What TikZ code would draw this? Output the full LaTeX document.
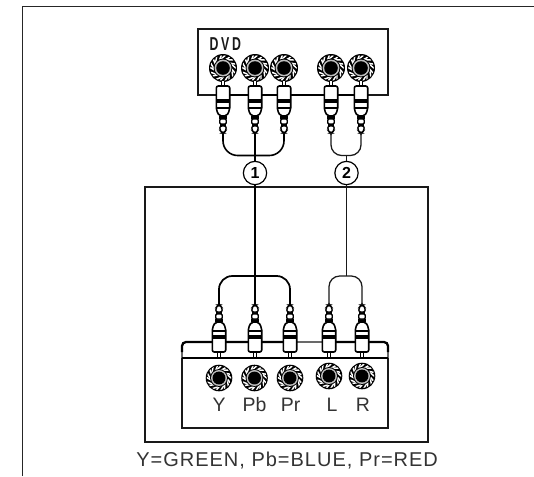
\documentclass[tikz,border=0pt]{standalone}
\usepackage{fontspec}
\setmainfont{Liberation Sans}
\begin{document}
\begin{tikzpicture}[x=0.75pt,y=-0.75pt,
  thinl/.style={line width=0.95pt,black!90},
  medl/.style={line width=1.2pt,black},
  thickl/.style={line width=1.7pt,black},
  lab/.style={inner sep=0pt,font=\fontsize{14.6pt}{17pt}\selectfont,text=black!80},
  num/.style={circle,draw=black,line width=0.9pt,fill=white,minimum size=17.5pt,inner sep=0pt,font=\bfseries\fontsize{12pt}{14pt}\selectfont},
  jack/.pic={
    \fill[black] (0,0) circle (14);
    \begin{scope}
      \clip (0,0) circle (12.8);
      \foreach \a in {0,40,...,320}{
        \begin{scope}[rotate=\a]
          \draw[white,line width=1.1pt] (8,-4) -- (14,1);
          \draw[white,line width=1.1pt] (7,-1) -- (12,5);
        \end{scope}}
    \end{scope}
    \fill[black] (0,0) circle (9.4);
    \fill[white!75!black] (0,0) circle (8.4);
    \fill[black] (0,0) circle (6.8);
  },
  plugshape/.pic={
    \fill[black] (-2.2,-5) rectangle (2.2,1);
    \fill[white] (-1,-5) rectangle (1,0);
    \draw[line width=1.2pt,fill=white,rounded corners=1.5pt] (-6.7,0) -- (6.7,0) -- (6.7,24) -- (3.6,30) -- (-3.6,30) -- (-6.7,24) -- cycle;
    \fill[black] (-6.7,13) rectangle (6.7,17);
    \fill[black] (-6.7,20.5) rectangle (6.7,22.5);
    \fill[black] (-3.6,30) rectangle (3.6,33);
    \draw[line width=1pt,fill=white,rounded corners=0.8pt] (-3.2,33) -- (3.2,33) -- (3.2,38) -- (-3.2,38) -- cycle;
    \fill[black] (-3.2,38) rectangle (3.2,40);
    \draw[line width=1pt,fill=white,rounded corners=1.5pt] (-3.2,40) -- (3.2,40) -- (3.2,44) -- (1,47) -- (-1,47) -- (-3.2,44) -- cycle;
  }]
\useasboundingbox (0,0) rectangle (534,476);
\fill[white] (0,0) rectangle (534,476);
% outer frame, open on the right and at the bottom
\draw[line width=1.1pt,black!85] (22.5,476) -- (22.5,6.5) -- (534,6.5);
% DVD box
\draw[thinl] (198,29) rectangle (388,95);
\draw[medl] (223,95) -- (361,95);
\node[inner sep=0pt,text=black!90,font=\bfseries\fontsize{14pt}{16pt}\selectfont,xscale=0.66,transform shape,anchor=west] (dvd) at (209.5,44.5) {D\hspace{3pt}V\hspace{3pt}D};
% main box
\draw[thinl] (145,187) rectangle (428,442);
% lower panel
\draw[thinl,rounded corners=3pt] (182,358) -- (182,342) -- (388,342) -- (388,358);
\draw[thickl,rounded corners=3pt] (182,352) -- (182,342) -- (295,342);
\draw[thickl,rounded corners=3pt] (322,342) -- (388,342) -- (388,352);
\draw[thinl] (182,358) -- (182,428) -- (388,428) -- (388,358);
\draw[thickl] (182,358) -- (388,358);
% numbered nodes
\node[num] (c1) at (255,173) {1};
\node[num] (c2) at (346.5,173) {2};
% tip coordinates
\coordinate (ta) at (223,133);
\coordinate (tb) at (255,133);
\coordinate (tc) at (284,133);
\coordinate (td) at (331,133);
\coordinate (te) at (361,133);
\coordinate (ba) at (219,305);
\coordinate (bb) at (255,305);
\coordinate (bc) at (290,305);
\coordinate (bd) at (329,305);
\coordinate (be) at (362,305);
\coordinate (jr) at (346.5,155.5);
\coordinate (jb) at (346.5,276);
% wires
\draw[medl,rounded corners=11pt] (ta) -- (223,155.5) -- (284,155.5) -- (tc);
\draw[medl] (tb) -- (c1);
\draw[thinl,rounded corners=8pt] (td) -- (331,155.5) -- (361,155.5) -- (te);
\draw[thinl] (jr) -- (c2);
\draw[thickl,line width=1.4pt] (c1) -- (bb);
\draw[thinl] (c2) -- (jb);
\draw[medl,line width=1.3pt,rounded corners=10pt] (ba) -- (219,276) -- (290,276) -- (bc);
\draw[thinl,rounded corners=8pt] (bd) -- (329,276) -- (362,276) -- (be);
% DVD jacks and plugs
\foreach \x in {223,255,284,331,361}{
  \pic at (\x,68) {jack};
  \pic at (\x,86) {plugshape};
}
% TV plugs and jacks
\foreach \x in {219,255,290,329,362}{
  \pic[yscale=-1] at (\x,352) {plugshape};
}
\foreach \x/\y in {219/378,254.5/378,290/378,329/376,362/376}{
  \pic[scale=0.95] at (\x,\y) {jack};
}
% labels
\node[lab] (ly) at (219,405) {Y};
\node[lab] (lpb) at (254.5,405) {Pb};
\node[lab] (lpr) at (290.5,405) {Pr};
\node[lab] (ll) at (332,405) {L};
\node[lab] (lr) at (363,405) {R};
\node[lab,font=\fontsize{15pt}{17pt}\selectfont\addfontfeature{LetterSpace=5},anchor=west] (cap) at (136,461) {Y=GREEN, Pb=BLUE, Pr=RED};
\end{tikzpicture}
\end{document}
